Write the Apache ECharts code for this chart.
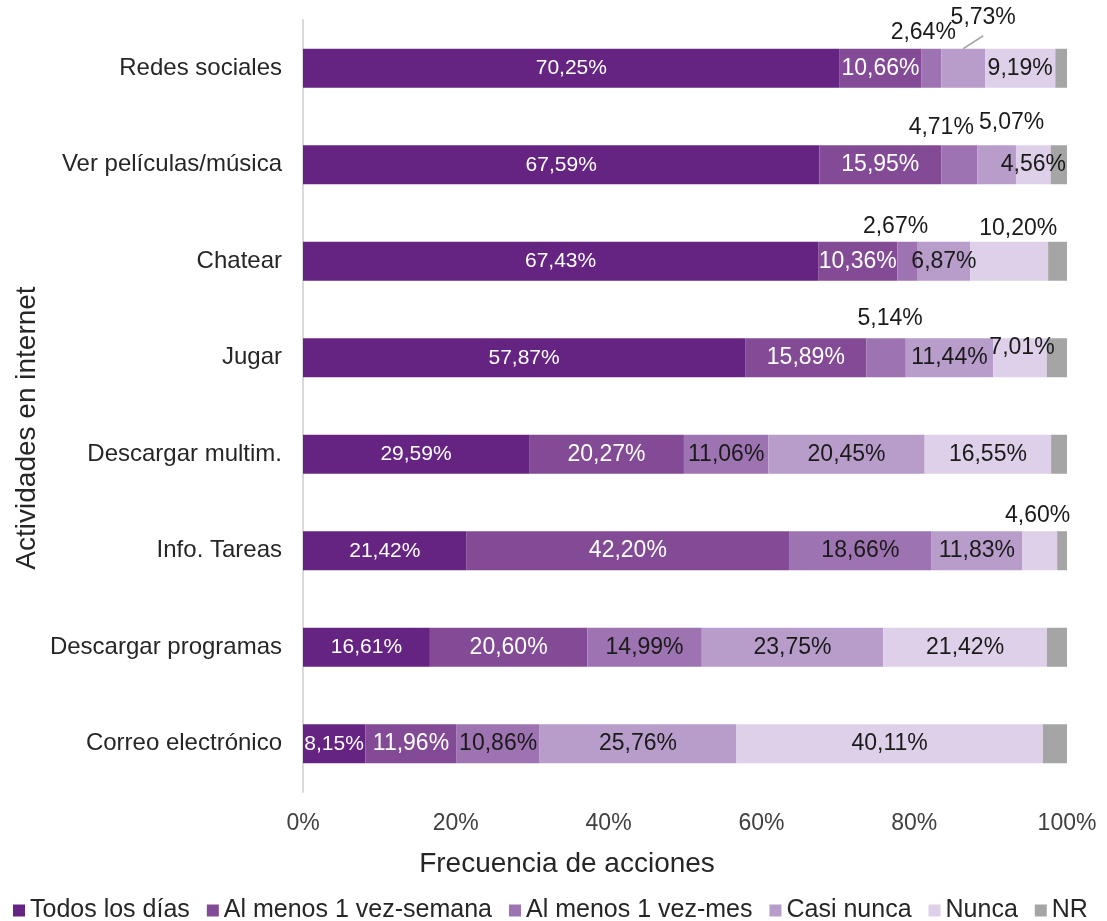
<!DOCTYPE html>
<html>
<head>
<meta charset="utf-8">
<script src="https://cdn.jsdelivr.net/npm/echarts@6/dist/echarts.min.js"></script>
<style>
  html, body { margin: 0; padding: 0; background: #fff; }
  #chart { width: 1107px; height: 921px; }
</style>
</head>
<body>
<div id="chart"></div>
<script>
// Activities on the internet, by frequency (percent of respondents)
const categories = [
  'Redes sociales', 'Ver películas/música', 'Chatear', 'Jugar',
  'Descargar multim.', 'Info. Tareas', 'Descargar programas', 'Correo electrónico'
];
const seriesNames = ['Todos los días', 'Al menos 1 vez-semana', 'Al menos 1 vez-mes', 'Casi nunca', 'Nunca', 'NR'];

const todosLosDias = [70.25, 67.59, 67.43, 57.87, 29.59, 21.42, 16.61, 8.15];
const vezSemana    = [10.66, 15.95, 10.36, 15.89, 20.27, 42.20, 20.60, 11.96];
const vezMes       = [2.64, 4.71, 2.67, 5.14, 11.06, 18.66, 14.99, 10.86];
const casiNunca    = [5.73, 5.07, 6.87, 11.44, 20.45, 11.83, 23.75, 25.76];
const nunca        = [9.19, 4.56, 10.20, 7.01, 16.55, 4.60, 21.42, 40.11];
const noResponde   = [1.53, 2.12, 2.47, 2.65, 2.08, 1.29, 2.63, 3.16];

const xTicks = [0, 20, 40, 60, 80, 100];

const seriesValues = [todosLosDias, vezSemana, vezMes, casiNunca, nunca, noResponde];
const colors = ['#662482', '#834B96', '#9D74B1', '#B89DCB', '#DDD0E8', '#A5A5A5'];

const FONT = "'Liberation Sans', Arial, sans-serif";
const BAR_WIDTH = 39;
const fmt = v => v.toFixed(2).replace('.', ',') + '%';

// labels of narrow segments are lifted above the bar: [series][category] -> placement
const labelPlacement = {
  2: { 0: { position: 'top', offset: [-8, 0] },
       1: { position: 'top', offset: [-18, -1] },
       2: { position: 'top', offset: [-12, 1] },
       3: { position: 'top', offset: [4, -3] } },
  3: { 0: { position: 'top', offset: [20, -15], leader: [20, -13] },
       1: { position: 'top', offset: [15, -6] } },
  4: { 2: { position: 'top', offset: [9, 3] },
       3: { position: 'inside', offset: [2, -10] },
       5: { position: 'top', offset: [-2, 1] } }
};

const series = seriesValues.map((vals, si) => {
  const placements = labelPlacement[si] || {};
  return {
    name: seriesNames[si],
    type: 'bar',
    stack: 'total',
    barWidth: BAR_WIDTH,
    itemStyle: { color: colors[si] },
    label: {
      show: si < 5,
      position: 'inside',
      fontFamily: FONT,
      fontSize: si === 0 ? 21 : 23,
      color: si < 2 ? '#ffffff' : '#1a1a1a',
      formatter: p => fmt(p.value)
    },
    emphasis: { disabled: true },
    data: vals.map((v, di) => {
      const place = placements[di];
      return place ? { value: v, label: { position: place.position, offset: place.offset } } : v;
    })
  };
});

const chart = echarts.init(document.getElementById('chart'), null, { renderer: 'canvas' });
const option = {
  animation: false,
  backgroundColor: '#ffffff',
  textStyle: { fontFamily: FONT },
  color: colors,
  grid: { left: 303, right: 40, top: 20, bottom: 129, containLabel: false },
  xAxis: {
    type: 'value',
    min: xTicks[0],
    max: xTicks[xTicks.length - 1],
    interval: xTicks[1] - xTicks[0],
    axisLine: { show: false },
    axisTick: { show: false },
    splitLine: { show: false },
    axisLabel: { formatter: '{value}%', fontSize: 23, color: '#404040', margin: 20, fontFamily: FONT }
  },
  yAxis: {
    type: 'category',
    inverse: true,
    data: categories,
    axisLine: { show: true, lineStyle: { color: '#D9D9D9', width: 2 } },
    axisTick: { show: false },
    axisLabel: { fontSize: 24, color: '#262626', margin: 21, fontFamily: FONT }
  },
  legend: {
    data: seriesNames,
    left: 8,
    top: 893,
    icon: 'rect',
    itemWidth: 12,
    itemHeight: 12,
    itemGap: 17,
    textStyle: { fontSize: 25, color: '#262626', fontFamily: FONT }
  },
  graphic: [
    {
      type: 'text',
      x: 567, y: 864,
      style: { text: 'Frecuencia de acciones', fontSize: 28, fill: '#262626', fontFamily: FONT,
               textAlign: 'center', textVerticalAlign: 'middle' }
    },
    {
      type: 'text',
      x: 27, y: 428,
      rotation: Math.PI / 2,
      style: { text: 'Actividades en internet', fontSize: 28, fill: '#262626', fontFamily: FONT,
               textAlign: 'center', textVerticalAlign: 'middle' }
    }
  ],
  series: series
};
chart.setOption(option);

// leader lines: from the top middle of a segment towards its lifted label
const leaders = [];
Object.keys(labelPlacement).forEach(si => {
  Object.keys(labelPlacement[si]).forEach(di => {
    const place = labelPlacement[si][di];
    if (!place.leader) return;
    let start = 0;
    for (let k = 0; k < Number(si); k++) start += seriesValues[k][di];
    const mid = start + seriesValues[si][di] / 2;
    const x = chart.convertToPixel({ xAxisIndex: 0 }, mid);
    const yc = chart.convertToPixel({ yAxisIndex: 0 }, categories[di]);
    const y = yc - BAR_WIDTH / 2;
    leaders.push({
      type: 'line',
      silent: true,
      shape: { x1: x, y1: y, x2: x + place.leader[0], y2: y + place.leader[1] },
      style: { stroke: '#A6A6A6', lineWidth: 1.5 }
    });
  });
});
chart.setOption({ graphic: option.graphic.concat(leaders) });
</script>
</body>
</html>
